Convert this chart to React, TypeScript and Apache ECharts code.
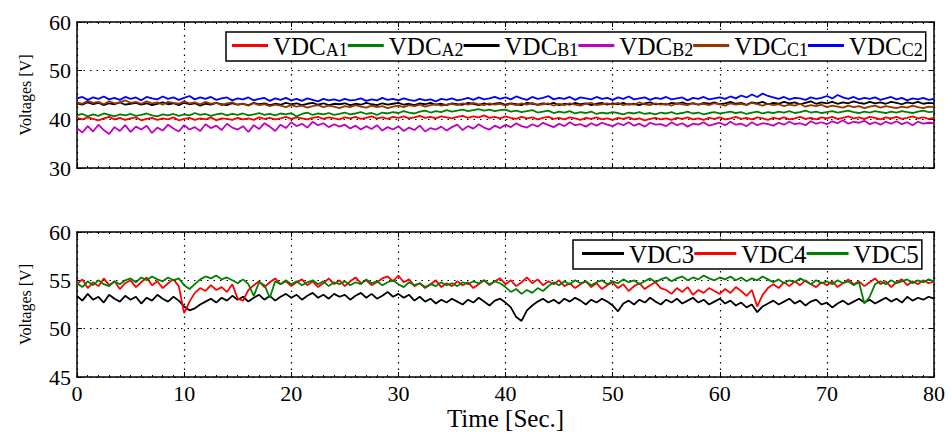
import React, { useEffect, useRef } from "react";
import * as echarts from "echarts";

// sample step along time axis (s)
const STEP = 0.5;
const X_TICKS = [0, 10, 20, 30, 40, 50, 60, 70, 80];
const TOP_Y_TICKS = [30, 40, 50, 60];
const BOT_Y_TICKS = [45, 50, 55, 60];

const TOP_NAMES = ["VDCA1", "VDCA2", "VDCB1", "VDCB2", "VDCC1", "VDCC2"];
const BOT_NAMES = ["VDC3", "VDC4", "VDC5"];

const vdcA1 = [
  40.3,40.0,40.4,40.1,39.8,40.2,40.5,40.0,40.3,39.9,
  40.2,40.4,39.8,40.1,40.3,39.9,40.2,40.0,40.4,39.8,
  40.1,40.3,39.9,40.2,40.0,40.4,39.8,40.2,40.1,39.9,
  40.3,40.0,40.2,39.9,40.4,40.1,40.3,40.0,40.2,40.5,
  40.1,40.4,40.2,40.0,40.3,40.5,40.1,40.4,40.2,40.0,
  40.4,40.2,40.5,40.1,40.3,40.6,40.2,40.4,40.1,40.5,
  40.3,40.6,40.2,40.4,40.7,40.3,40.5,40.2,40.6,40.4,
  40.2,40.5,40.7,40.3,40.6,40.4,40.8,40.3,40.5,40.2,
  40.6,40.3,40.1,40.5,40.2,40.4,40.0,40.3,40.5,40.1,
  40.3,40.0,40.4,40.2,39.9,40.3,40.1,40.4,40.0,40.2,
  39.9,40.3,40.1,40.4,40.0,40.2,39.8,40.1,40.3,40.0,
  40.2,39.9,40.3,40.1,40.4,40.0,40.2,39.9,40.3,40.1,
  40.4,40.0,40.2,40.5,40.1,40.3,40.0,40.4,40.2,39.9,
  40.3,40.1,40.4,40.0,40.2,40.5,40.1,40.3,40.0,40.4,
  40.2,40.5,40.1,40.3,40.6,40.2,40.4,40.1,40.5,40.3,
  40.0,40.4,40.2,40.5,40.1,40.3,40.6,40.2,40.4,40.1,
  40.3,
];
const vdcA2 = [
  40.8,41.1,40.6,41.0,40.7,41.2,40.9,40.6,41.0,40.8,
  41.1,40.7,40.9,41.2,40.8,40.6,41.0,40.8,41.1,40.7,
  41.0,40.8,41.3,40.9,41.1,40.7,41.0,41.2,40.8,41.1,
  40.9,41.2,40.8,41.0,41.3,40.9,41.1,40.8,41.2,41.0,
  41.3,40.6,41.1,41.4,40.9,41.2,41.0,41.3,40.9,41.1,
  41.4,41.0,41.2,41.5,41.1,41.3,40.9,41.4,41.2,41.5,
  41.3,41.7,41.4,41.2,41.6,41.8,41.4,41.7,41.5,41.9,
  41.6,41.8,42.0,41.7,41.9,42.1,41.8,42.0,41.7,41.9,
  42.0,41.6,41.8,41.5,41.7,41.9,41.4,41.6,41.8,41.3,
  41.6,41.4,41.7,41.2,41.5,41.3,41.6,41.1,41.4,41.2,
  41.5,41.3,41.0,41.4,41.2,41.5,41.1,41.3,41.0,41.4,
  41.2,41.5,41.1,41.3,41.6,41.2,41.4,41.0,41.3,41.5,
  41.2,41.4,41.6,41.3,41.5,41.1,41.4,41.6,41.2,41.5,
  41.3,41.6,41.4,41.7,41.3,41.5,41.8,41.4,41.6,41.3,
  41.5,41.7,41.4,41.6,41.8,41.5,41.3,41.6,41.4,41.7,
  41.5,41.3,41.6,41.4,41.7,41.5,41.3,41.6,41.8,41.5,
  41.6,
];
const vdcB1 = [
  43.3,43.0,43.5,43.1,43.4,42.9,43.3,43.1,43.5,43.0,
  43.2,43.4,43.0,43.3,42.9,43.2,43.5,43.1,43.3,42.9,
  43.4,43.1,43.3,42.8,43.2,43.0,43.4,43.1,42.9,43.3,
  43.0,43.2,42.9,43.4,43.1,43.3,42.9,43.2,43.0,43.4,
  43.1,43.3,42.9,43.2,43.4,43.0,43.3,42.9,43.2,43.1,
  43.3,42.9,43.2,43.0,43.4,43.1,42.9,43.3,43.0,43.2,
  43.4,43.0,43.2,42.9,43.3,43.1,43.4,43.0,43.2,42.9,
  43.3,43.1,43.0,43.4,43.2,42.9,43.3,43.0,43.2,43.4,
  43.0,43.3,43.1,42.9,43.4,43.2,43.0,43.3,43.1,43.4,
  42.9,43.2,43.0,43.4,43.1,43.3,42.9,43.2,43.4,43.0,
  43.3,43.1,43.4,43.0,43.2,42.9,43.3,43.5,43.1,43.2,
  43.0,43.4,43.2,43.5,43.1,43.3,43.0,43.4,43.2,43.5,
  43.1,43.3,43.6,43.2,43.4,43.0,43.5,43.3,43.6,43.1,
  43.4,43.2,43.6,43.3,43.5,43.1,43.4,43.7,43.2,43.5,
  43.3,43.6,43.2,43.5,43.3,43.7,43.4,43.2,43.6,43.3,
  43.5,43.2,43.6,43.4,43.1,43.5,43.3,43.6,43.2,43.4,
  43.3,
];
const vdcB2 = [
  38.2,37.3,38.6,37.5,38.9,37.8,37.0,38.4,37.6,38.8,
  37.4,38.5,37.9,38.7,37.2,38.3,37.7,38.9,38.1,37.5,
  38.8,37.9,38.4,37.6,39.0,38.2,38.7,37.8,39.1,38.3,
  37.9,38.6,37.4,38.8,38.0,39.2,38.5,37.6,38.9,38.2,
  39.4,38.6,39.1,38.3,39.5,38.8,39.2,38.4,39.0,38.5,
  38.9,38.1,38.7,37.9,38.6,38.0,38.8,37.7,38.4,37.9,
  38.6,37.6,38.3,37.8,38.7,37.5,38.2,37.9,38.5,37.7,
  38.4,38.9,37.8,38.6,38.1,39.0,38.3,37.9,38.7,38.2,
  38.9,38.4,39.2,38.6,38.3,39.0,38.5,39.3,38.8,38.4,
  39.1,38.6,39.4,38.8,39.0,38.5,39.2,38.7,39.3,38.9,
  38.6,39.2,38.8,39.4,38.7,39.1,38.5,39.3,38.9,39.0,
  38.6,39.4,38.8,39.2,38.5,39.1,38.9,39.4,38.7,39.0,
  39.3,38.8,39.5,38.9,39.1,38.6,39.4,38.8,39.2,39.0,
  38.7,39.3,38.9,39.5,39.0,39.2,38.8,39.6,39.1,39.4,
  39.0,39.6,39.2,39.8,39.1,39.5,39.3,39.7,39.0,39.4,
  38.9,39.5,39.1,39.6,39.0,39.4,38.8,39.5,39.1,39.3,
  39.2,
];
const vdcC1 = [
  43.5,43.2,43.8,43.4,43.6,43.1,43.7,43.3,43.5,43.9,
  43.4,43.6,43.2,43.7,43.3,43.5,43.0,43.6,43.4,43.2,
  43.7,43.3,43.5,43.1,43.6,43.2,43.4,42.9,43.3,43.5,
  43.0,43.2,42.8,43.3,42.9,43.1,42.7,43.0,42.8,42.5,
  42.9,42.6,42.8,42.4,42.7,42.9,42.5,42.8,42.6,42.3,
  42.7,42.5,42.9,42.6,42.4,42.8,42.5,42.7,42.3,42.6,
  42.8,42.5,42.9,42.7,43.0,42.6,42.9,43.1,42.8,43.0,
  43.2,42.9,43.3,43.0,43.4,43.1,42.9,43.3,43.0,43.2,
  42.8,43.2,42.9,43.3,43.0,43.4,42.9,43.1,43.3,42.8,
  43.2,42.9,43.3,43.0,42.8,43.2,43.4,42.9,43.1,43.3,
  43.0,43.4,42.9,43.2,43.0,43.5,43.1,42.9,43.3,43.0,
  43.2,42.8,43.3,43.1,42.9,43.4,43.0,43.2,42.9,43.3,
  43.1,42.8,43.3,43.0,43.2,42.9,43.4,43.1,42.8,43.2,
  42.9,43.1,42.7,43.0,42.8,43.2,42.6,42.9,42.7,43.0,
  42.5,42.8,42.6,42.4,42.8,42.5,42.7,42.3,42.6,42.8,
  42.4,42.7,42.5,42.3,42.6,42.4,42.8,42.5,42.3,42.6,
  42.5,
];
const vdcC2 = [
  44.3,44.6,44.0,44.5,44.2,44.7,44.1,44.4,44.0,44.6,
  44.2,44.5,43.9,44.6,44.3,44.1,44.7,44.2,44.5,44.0,
  44.4,44.8,44.1,44.5,44.2,44.6,44.0,44.3,44.5,43.9,
  44.3,44.1,44.5,43.9,44.2,44.4,43.8,44.3,44.0,44.4,
  43.9,44.2,43.8,44.3,44.0,43.7,44.2,43.9,44.1,43.8,
  44.2,43.9,44.0,44.3,43.8,44.1,43.9,44.4,44.0,44.2,
  43.9,44.3,44.0,43.8,44.2,43.9,44.1,43.7,44.2,44.0,
  44.3,43.9,44.1,44.4,44.0,44.5,44.1,44.3,44.6,44.2,
  44.5,44.1,44.7,44.3,44.0,44.6,44.2,44.4,44.8,44.1,
  44.4,44.2,44.6,44.0,44.5,44.3,44.1,44.6,44.2,44.4,
  44.0,44.5,44.2,44.7,44.1,44.3,44.5,44.0,44.4,44.2,
  44.6,44.1,44.3,44.5,43.9,44.4,44.2,44.6,44.1,44.3,
  44.5,44.2,44.7,44.3,44.9,44.5,45.1,44.6,45.3,44.8,
  44.5,44.2,44.6,44.1,44.4,44.3,44.0,44.5,44.2,44.4,
  44.8,44.3,45.0,44.5,44.2,44.6,44.1,44.4,44.2,44.5,
  44.0,44.3,44.6,44.1,44.4,43.9,44.3,44.1,44.4,44.0,
  44.2,
];
const vdc3 = [
  53.4,52.9,53.6,53.0,53.3,52.7,53.5,53.1,52.8,53.4,
  53.0,53.3,52.6,53.2,52.9,53.5,53.1,52.8,53.3,52.9,
  52.3,51.9,52.1,52.5,52.8,53.1,52.7,53.2,52.9,53.4,
  53.0,53.3,52.8,53.2,53.5,53.0,53.4,52.9,53.3,53.6,
  53.2,53.5,53.0,53.4,53.7,53.2,53.5,53.1,53.6,53.3,
  53.5,53.0,53.4,53.7,53.2,53.6,53.1,53.4,53.8,53.3,
  53.6,53.2,53.5,52.9,53.3,52.8,53.1,52.6,53.0,52.7,
  53.1,52.8,52.5,53.0,52.7,53.2,52.8,52.4,52.9,53.1,
  52.7,52.2,51.2,50.8,51.9,52.4,52.8,53.1,52.7,53.0,
  52.6,53.1,52.8,53.2,52.9,52.5,53.0,52.7,53.1,52.8,
  52.4,51.8,52.6,52.9,52.5,53.0,52.7,53.2,52.8,52.5,
  53.0,52.7,53.1,52.6,52.9,53.2,52.7,53.0,52.5,52.8,
  53.1,52.6,52.9,52.4,52.7,52.2,52.5,51.7,52.3,52.6,
  52.9,52.5,52.8,53.1,52.6,52.9,52.4,52.8,53.0,52.5,
  52.7,52.2,52.6,52.9,52.5,52.8,53.1,52.7,53.0,52.6,
  52.9,53.2,52.8,53.1,52.7,53.3,52.9,53.2,53.0,53.3,
  53.1,
];
const vdc4 = [
  54.6,55.1,54.2,54.8,54.4,55.2,54.5,54.9,54.1,54.7,
  55.0,54.3,54.8,55.3,54.5,54.9,54.2,54.7,55.1,54.4,
  51.6,52.8,53.7,54.2,53.9,54.5,54.0,54.3,53.8,54.6,
  53.1,52.9,54.0,54.5,54.9,54.3,54.8,55.2,54.6,54.9,
  54.4,54.8,55.1,54.5,54.9,54.3,54.7,55.2,54.6,55.0,
  54.4,54.9,55.3,54.7,55.0,54.5,54.8,55.2,55.4,54.9,
  55.5,54.8,55.1,54.4,54.7,54.2,54.6,55.0,54.3,54.7,
  54.4,54.9,54.5,54.8,54.2,54.6,55.0,54.5,54.9,55.2,
  54.6,55.0,54.4,54.8,55.3,54.7,55.1,54.5,54.9,54.6,
  55.0,54.4,54.7,54.2,54.6,54.9,54.3,54.7,54.1,54.5,
  54.8,54.2,54.6,53.9,54.4,54.7,54.1,54.5,54.8,54.2,
  54.0,53.6,54.2,53.8,54.3,53.5,54.0,53.7,54.2,53.9,
  53.6,54.1,53.7,54.3,53.9,53.4,54.0,52.3,53.5,54.2,
  54.6,54.2,54.8,54.4,54.9,54.5,55.0,54.6,54.3,54.8,
  54.5,54.9,54.3,54.7,55.1,54.6,54.9,54.4,54.8,55.2,
  54.6,54.9,54.3,54.8,55.1,54.5,54.9,54.6,55.0,54.7,
  54.9,
];
const vdc5 = [
  54.7,54.3,54.9,54.5,55.0,54.6,54.4,54.9,54.6,55.0,
  55.2,54.8,55.3,55.0,55.4,55.1,54.9,55.3,55.0,55.2,
  54.5,54.1,54.6,55.1,55.4,55.2,55.5,55.1,55.3,55.0,
  54.7,55.1,54.6,53.4,54.8,54.5,53.2,54.9,54.6,55.0,
  54.6,54.9,54.5,54.8,55.0,54.6,54.9,54.4,54.8,54.6,
  54.9,54.5,54.8,54.6,55.1,54.7,54.9,54.5,54.8,55.0,
  54.6,54.3,54.8,54.5,54.7,54.3,54.6,54.4,54.8,54.5,
  54.7,54.4,54.8,54.6,54.9,54.7,55.0,54.6,54.9,54.7,
  54.3,53.8,54.1,53.6,54.0,53.7,54.2,53.9,54.4,54.8,
  54.5,54.9,54.6,55.0,54.7,54.9,54.5,54.8,55.0,54.6,
  54.9,54.7,55.1,54.8,55.0,54.6,54.9,55.2,54.8,55.1,
  55.3,54.9,55.2,55.4,55.0,55.3,55.1,55.5,55.2,55.0,
  55.3,55.1,55.4,55.0,55.3,54.9,55.2,55.0,55.4,55.1,
  54.8,55.1,54.7,55.0,54.8,55.2,54.9,54.6,55.0,54.7,
  54.9,54.6,55.0,54.7,54.9,54.5,54.8,52.6,53.3,54.6,
  54.9,54.6,55.0,54.7,54.9,55.1,54.7,55.0,54.8,55.1,
  54.9,
];

const TOP_DATA = [vdcA1, vdcA2, vdcB1, vdcB2, vdcC1, vdcC2];
const BOT_DATA = [vdc3, vdc4, vdc5];
const TOP_COLORS = ["#ff0000", "#008000", "#000000", "#bf00bf", "#993300", "#0000ff"];
const BOT_COLORS = ["#000000", "#ff0000", "#008000"];

const FONT = "'Liberation Serif', 'Times New Roman', serif";

const toPairs = (arr: number[]) => arr.map((v, i) => [i * STEP, v]);

function legendFormatter(name: string) {
  const m = name.match(/^VDC([A-Z]\d)$/);
  if (m) return `{m|VDC}{s|${m[1]}}`;
  return `{m|${name}}`;
}

const legendText = {
  color: "#000",
  fontFamily: FONT,
  rich: {
    m: { fontSize: 25, fontFamily: FONT, color: "#000", verticalAlign: "bottom" as const, lineHeight: 27 },
    s: { fontSize: 18, fontFamily: FONT, color: "#000", verticalAlign: "bottom" as const, lineHeight: 25 },
  },
};

export default function App() {
  const ref = useRef<HTMLDivElement>(null);

  useEffect(() => {
    if (!ref.current) return;
    const chart = echarts.init(ref.current, null, { renderer: "svg" });

    const grids = [
      { left: 77, right: 18, top: 22, height: 146 },
      { left: 77, right: 18, top: 232, height: 145 },
    ];

    const dotted = { show: true, lineStyle: { color: "#000", type: [1.5, 5] as any, width: 1.2 } };
    const frameLine = { show: true, onZero: false, lineStyle: { color: "#000", width: 1.5 } };

    const mainX = (gridIndex: number, showLabels: boolean) => ({
      type: "value" as const,
      gridIndex,
      min: X_TICKS[0],
      max: X_TICKS[X_TICKS.length - 1],
      interval: X_TICKS[1] - X_TICKS[0],
      position: "bottom" as const,
      axisLine: frameLine,
      axisTick: { show: true, inside: true, length: 5, lineStyle: { color: "#000" } },
      minorTick: { show: true, splitNumber: 10, length: 2, lineStyle: { color: "#000" } },
      axisLabel: {
        show: showLabels,
        color: "#000",
        fontFamily: FONT,
        fontSize: 22,
        margin: 5,
      },
      splitLine: dotted,
      name: showLabels ? "Time [Sec.]" : "",
      nameLocation: "middle" as const,
      nameGap: 29,
      nameTextStyle: { color: "#000", fontFamily: FONT, fontSize: 25 },
    });
    const topX = (gridIndex: number) => ({
      type: "value" as const,
      gridIndex,
      min: X_TICKS[0],
      max: X_TICKS[X_TICKS.length - 1],
      interval: X_TICKS[1] - X_TICKS[0],
      position: "top" as const,
      axisLine: frameLine,
      axisTick: { show: true, inside: true, length: 5, lineStyle: { color: "#000" } },
      minorTick: { show: true, splitNumber: 10, length: 2, lineStyle: { color: "#000" } },
      axisLabel: { show: false },
      splitLine: { show: false },
    });
    const mainY = (gridIndex: number, ticks: number[]) => ({
      type: "value" as const,
      gridIndex,
      min: ticks[0],
      max: ticks[ticks.length - 1],
      interval: ticks[1] - ticks[0],
      position: "left" as const,
      axisLine: frameLine,
      axisTick: { show: true, inside: true, length: 5, lineStyle: { color: "#000" } },
      axisLabel: { color: "#000", fontFamily: FONT, fontSize: 22, margin: 6 },
      splitLine: dotted,
      name: "Voltages [V]",
      nameLocation: "middle" as const,
      nameRotate: 90,
      nameGap: 44,
      nameTextStyle: { color: "#000", fontFamily: FONT, fontSize: 16 },
    });
    const rightY = (gridIndex: number, ticks: number[]) => ({
      type: "value" as const,
      gridIndex,
      min: ticks[0],
      max: ticks[ticks.length - 1],
      interval: ticks[1] - ticks[0],
      position: "right" as const,
      axisLine: frameLine,
      axisTick: { show: true, inside: true, length: 5, lineStyle: { color: "#000" } },
      axisLabel: { show: false },
      splitLine: { show: false },
    });

    const series: any[] = [];
    TOP_NAMES.forEach((name, i) => {
      series.push({
        name,
        type: "line",
        xAxisIndex: 0,
        yAxisIndex: 0,
        data: toPairs(TOP_DATA[i]),
        showSymbol: false,
        symbol: "none",
        lineStyle: { color: TOP_COLORS[i], width: 1.8 },
        itemStyle: { color: TOP_COLORS[i] },
      });
    });
    BOT_NAMES.forEach((name, i) => {
      series.push({
        name,
        type: "line",
        xAxisIndex: 1,
        yAxisIndex: 1,
        data: toPairs(BOT_DATA[i]),
        showSymbol: false,
        symbol: "none",
        lineStyle: { color: BOT_COLORS[i], width: 1.8 },
        itemStyle: { color: BOT_COLORS[i] },
      });
    });

    chart.setOption({
      animation: false,
      backgroundColor: "#fff",
      grid: grids,
      xAxis: [mainX(0, false), mainX(1, true), topX(0), topX(1)],
      yAxis: [mainY(0, TOP_Y_TICKS), mainY(1, BOT_Y_TICKS), rightY(0, TOP_Y_TICKS), rightY(1, BOT_Y_TICKS)],
      legend: [
        {
          data: TOP_NAMES,
          left: 226,
          top: 32,
          orient: "horizontal",
          itemGap: 0,
          itemWidth: 36,
          itemHeight: 3,
          icon: "rect",
          padding: [2, 3, 2, 6],
          borderColor: "#000",
          borderWidth: 1.5,
          borderRadius: 0,
          backgroundColor: "#fff",
          formatter: legendFormatter,
          textStyle: legendText,
          selectedMode: false,
        },
        {
          data: BOT_NAMES,
          left: 573,
          top: 240,
          orient: "horizontal",
          itemGap: 0,
          itemWidth: 42,
          itemHeight: 3,
          icon: "rect",
          padding: [2, 3, 2, 9],
          borderColor: "#000",
          borderWidth: 1.5,
          borderRadius: 0,
          backgroundColor: "#fff",
          formatter: legendFormatter,
          textStyle: legendText,
          selectedMode: false,
        },
      ],
      series,
    });

    return () => chart.dispose();
  }, []);

  return (
    <div
      ref={ref}
      style={{ position: "fixed", left: 0, top: 0, width: 952, height: 439, background: "#fff" }}
    />
  );
}
